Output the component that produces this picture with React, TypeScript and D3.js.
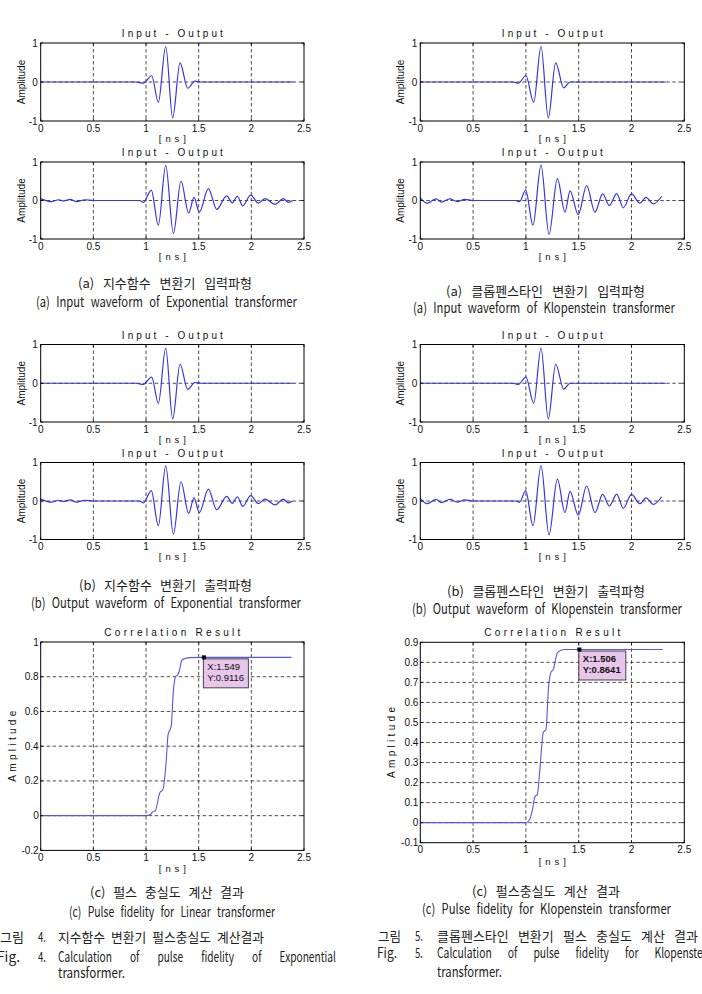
import React from "react";
import * as d3 from "d3";

// ---------------- data ----------------
const xTicks = [0, 0.5, 1, 1.5, 2, 2.5];
const waveYTicks = [-1, 0, 1];
const corrYTicksExp = [-0.2, 0, 0.2, 0.4, 0.6, 0.8, 1];
const corrYTicksKlop = [-0.1, 0, 0.1, 0.2, 0.3, 0.4, 0.5, 0.6, 0.7, 0.8, 0.9];

// Exponential transformer – input waveform (extrema)
const expInputT = [0, 0.9, 0.975, 1.054, 1.117, 1.187, 1.253, 1.323, 1.396, 1.465, 1.52, 2.4];
const expInputV = [0, 0, -0.03, 0.16, -0.52, 0.91, -0.92, 0.49, -0.16, 0.02, 0, 0];

// Exponential transformer – output waveform (extrema)
const expOutputT = [0, 0.1, 0.17, 0.22, 0.28, 0.34, 0.42, 0.5, 0.94, 0.975, 1.05, 1.117, 1.187, 1.26, 1.332, 1.405, 1.456, 1.506, 1.592, 1.671, 1.766, 1.82, 1.867, 1.918, 1.994, 2.067, 2.13, 2.225, 2.304, 2.35, 2.393];
const expOutputV = [0.05, -0.03, 0.02, -0.01, 0.03, -0.03, 0.02, 0, 0, -0.05, 0.27, -0.64, 0.91, -0.86, 0.5, -0.32, 0.08, -0.3, 0.31, -0.23, 0.12, -0.06, 0.11, -0.14, 0.14, -0.07, 0.05, -0.1, 0.05, -0.05, 0.0];

// Klopenstein transformer – input waveform (extrema)
const klopInputT = [0, 0.88, 0.928, 1.0, 1.074, 1.143, 1.212, 1.282, 1.358, 1.418, 2.327];
const klopInputV = [0, 0, -0.03, 0.16, -0.52, 0.91, -0.92, 0.49, -0.15, 0, 0];

// Klopenstein transformer – output waveform (extrema)
const klopOutputT = [0, 0.066, 0.149, 0.2, 0.28, 0.35, 0.42, 0.5, 0.9, 0.94, 0.998, 1.067, 1.143, 1.219, 1.298, 1.37, 1.418, 1.496, 1.575, 1.654, 1.727, 1.79, 1.86, 1.922, 2.0, 2.08, 2.137, 2.207, 2.286];
const klopOutputV = [0.07, -0.07, 0.04, -0.04, 0.04, -0.03, 0.03, 0, 0, -0.03, 0.27, -0.64, 0.92, -0.88, 0.57, -0.3, 0.25, -0.37, 0.39, -0.3, 0.17, -0.13, 0.18, -0.19, 0.17, -0.07, 0.08, -0.09, 0.11];

// Correlation results
const expCorrT = [0, 1.0, 1.04, 1.06, 1.09, 1.13, 1.16, 1.19, 1.21, 1.228, 1.24, 1.26, 1.28, 1.3, 1.315, 1.34, 1.37, 1.42, 1.549, 2.38];
const expCorrV = [0, 0, 0.005, 0.02, 0.03, 0.13, 0.15, 0.3, 0.47, 0.495, 0.52, 0.72, 0.8, 0.81, 0.83, 0.895, 0.905, 0.91, 0.9116, 0.9116];
const expTip = { x: 1.549, y: 0.9116 };

const klopCorrT = [0, 1.0, 1.02, 1.039, 1.06, 1.086, 1.108, 1.13, 1.165, 1.19, 1.215, 1.237, 1.26, 1.3, 1.36, 1.506, 2.295];
const klopCorrV = [0, 0, 0.005, 0.02, 0.06, 0.13, 0.14, 0.25, 0.45, 0.465, 0.68, 0.75, 0.765, 0.85, 0.864, 0.8641, 0.8641];
const klopTip = { x: 1.506, y: 0.8641 };

// ---------------- styling ----------------
const PLOT_FONT = "'Liberation Sans', Arial, Helvetica, sans-serif";
const CAP_FONT = "'Noto Sans CJK KR', 'Noto Sans', sans-serif";
const WAVE_COLOR = "#3535e4";
const CORR_COLOR = "#5656e6";
const DASH = "3.5,2.5";

let measureCtx: CanvasRenderingContext2D | null = null;
function measure(s: string, font: string) {
  if (!measureCtx) measureCtx = document.createElement("canvas").getContext("2d");
  if (!measureCtx) return s.length * 7;
  measureCtx.font = font;
  return measureCtx.measureText(s).width;
}

// Words spread across [x0, x1]; glyphs condensed horizontally if needed
function Justified({ x0, x1, y, text, size = 13, gapMin }: { x0: number; x1: number; y: number; text: string; size?: number; gapMin?: number }) {
  const words = text.split(" ");
  const font = `${size}px ${CAP_FONT}`;
  const widths = words.map((w) => measure(w, font));
  const total = widths.reduce((a, b) => a + b, 0);
  const n = words.length;
  const span = x1 - x0;
  const minGap = gapMin ?? size * 0.45;
  let sx = 1;
  if (n > 1) {
    if (total + minGap * (n - 1) > span) sx = Math.max(0.6, (span - minGap * (n - 1)) / total);
  } else if (total > span) {
    sx = Math.max(0.6, span / total);
  }
  const gap = n > 1 ? (span - total * sx) / (n - 1) : 0;
  let cur = 0;
  const xs = widths.map((w) => {
    const r = cur;
    cur += w * sx + gap;
    return r / sx;
  });
  return (
    <g transform={`translate(${x0},${y}) scale(${sx},1)`}>
      <text y={0} fontSize={size} fontFamily={CAP_FONT} fill="#222">
        {words.map((w, i) => (
          <tspan key={i} x={xs[i]}>
            {w}
          </tspan>
        ))}
      </text>
    </g>
  );
}

function fmt(v: number) {
  return String(+v.toFixed(1));
}

function WavePanel({ x0, x1, y0, y1, t, v }: { x0: number; x1: number; y0: number; y1: number; t: number[]; v: number[] }) {
  const xs = d3.scaleLinear().domain([0, 2.5]).range([x0, x1]);
  const ys = d3.scaleLinear().domain([-1, 1]).range([y1, y0]);
  const line = d3
    .line<number>()
    .x((_, i) => xs(t[i]))
    .y((d) => ys(d))
    .curve(d3.curveMonotoneX);
  const cx = (x0 + x1) / 2;
  const cy = (y0 + y1) / 2;
  return (
    <g fontFamily={PLOT_FONT}>
      <text x={cx} y={y0 - 6} textAnchor="middle" fontSize={10} textLength={101} lengthAdjust="spacing" fill="#111">
        Input - Output
      </text>
      {xTicks.slice(1, -1).map((tk) => (
        <line key={tk} x1={xs(tk)} x2={xs(tk)} y1={y0} y2={y1} stroke="#222" strokeWidth={0.8} strokeDasharray={DASH} />
      ))}
      <line x1={x0} x2={x1} y1={ys(0)} y2={ys(0)} stroke="#222" strokeWidth={0.8} strokeDasharray={DASH} />
      <path d={line(v) || ""} fill="none" stroke={WAVE_COLOR} strokeWidth={1.2} />
      {xTicks.map((tk) => (
        <g key={"xt" + tk}>
          <line x1={xs(tk)} x2={xs(tk)} y1={y1} y2={y1 - 2.5} stroke="#000" strokeWidth={0.8} />
          <line x1={xs(tk)} x2={xs(tk)} y1={y0} y2={y0 + 2.5} stroke="#000" strokeWidth={0.8} />
          <text x={xs(tk)} y={y1 + 10.5} textAnchor="middle" fontSize={10} fill="#111">
            {fmt(tk)}
          </text>
        </g>
      ))}
      {waveYTicks.map((tk) => (
        <g key={"yt" + tk}>
          <line x1={x0} x2={x0 + 2.5} y1={ys(tk)} y2={ys(tk)} stroke="#000" strokeWidth={0.8} />
          <line x1={x1} x2={x1 - 2.5} y1={ys(tk)} y2={ys(tk)} stroke="#000" strokeWidth={0.8} />
          <text x={x0 - 3} y={ys(tk) + 3.5} textAnchor="end" fontSize={10} fill="#111">
            {fmt(tk)}
          </text>
        </g>
      ))}
      <rect x={x0} y={y0} width={x1 - x0} height={y1 - y0} fill="none" stroke="#000" strokeWidth={1} />
      <text x={cx} y={y1 + 20.5} textAnchor="middle" fontSize={9.5} textLength={27} lengthAdjust="spacing" fill="#111">
        [ns]
      </text>
      <text transform={`translate(${x0 - 16},${cy}) rotate(-90)`} textAnchor="middle" fontSize={10} fill="#111">
        Amplitude
      </text>
    </g>
  );
}

function CorrPanel({
  x0, x1, y0, y1, t, v, yTicks, tip, bold,
}: {
  x0: number; x1: number; y0: number; y1: number; t: number[]; v: number[]; yTicks: number[]; tip: { x: number; y: number }; bold: boolean;
}) {
  const xs = d3.scaleLinear().domain([0, 2.5]).range([x0, x1]);
  const ys = d3.scaleLinear().domain([yTicks[0], yTicks[yTicks.length - 1]]).range([y1, y0]);
  const line = d3
    .line<number>()
    .x((_, i) => xs(t[i]))
    .y((d) => ys(d))
    .curve(d3.curveMonotoneX);
  const cx = (x0 + x1) / 2;
  const cy = (y0 + y1) / 2;
  const px = xs(tip.x);
  const py = ys(tip.y);
  return (
    <g fontFamily={PLOT_FONT}>
      <text x={cx} y={y0 - 6.5} textAnchor="middle" fontSize={10} textLength={136} lengthAdjust="spacing" fill="#111">
        Correlation Result
      </text>
      {xTicks.slice(1, -1).map((tk) => (
        <line key={tk} x1={xs(tk)} x2={xs(tk)} y1={y0} y2={y1} stroke="#222" strokeWidth={0.8} strokeDasharray={DASH} />
      ))}
      {yTicks.slice(1, -1).map((tk) => (
        <line key={"g" + tk} x1={x0} x2={x1} y1={ys(tk)} y2={ys(tk)} stroke="#222" strokeWidth={0.8} strokeDasharray={DASH} />
      ))}
      <path d={line(v) || ""} fill="none" stroke={CORR_COLOR} strokeWidth={1.1} />
      {xTicks.map((tk) => (
        <g key={"xt" + tk}>
          <line x1={xs(tk)} x2={xs(tk)} y1={y1} y2={y1 - 2.5} stroke="#000" strokeWidth={0.8} />
          <line x1={xs(tk)} x2={xs(tk)} y1={y0} y2={y0 + 2.5} stroke="#000" strokeWidth={0.8} />
          <text x={xs(tk)} y={y1 + 10.5} textAnchor="middle" fontSize={10} fill="#111">
            {fmt(tk)}
          </text>
        </g>
      ))}
      {yTicks.map((tk) => (
        <g key={"yt" + tk}>
          <line x1={x0} x2={x0 + 2.5} y1={ys(tk)} y2={ys(tk)} stroke="#000" strokeWidth={0.8} />
          <line x1={x1} x2={x1 - 2.5} y1={ys(tk)} y2={ys(tk)} stroke="#000" strokeWidth={0.8} />
          <text x={x0 - 2} y={ys(tk) + 3.5} textAnchor="end" fontSize={10} fill="#111">
            {fmt(tk)}
          </text>
        </g>
      ))}
      <rect x={x0} y={y0} width={x1 - x0} height={y1 - y0} fill="none" stroke="#000" strokeWidth={1} />
      <text x={cx} y={y1 + 22} textAnchor="middle" fontSize={9.5} textLength={27} lengthAdjust="spacing" fill="#111">
        [ns]
      </text>
      <text transform={`translate(${x0 - 25},${cy}) rotate(-90)`} textAnchor="middle" fontSize={10} textLength={71} lengthAdjust="spacing" fill="#111">
        Amplitude
      </text>
      {/* data tip */}
      <rect x={px - 0.5} y={py + 1.5} width={bold ? 47 : 45} height={29} fill="#e8c6ea" stroke="#333" strokeWidth={0.9} />
      <rect x={px - 2} y={py - 2} width={4} height={4} fill="#000" />
      <text x={px + 3.5} y={py + 12.5} fontSize={9.5} fontWeight={bold ? 700 : 400} fill="#111">
        {`X:${tip.x}`}
      </text>
      <text x={px + 3.5} y={py + 24} fontSize={9.5} fontWeight={bold ? 700 : 400} fill="#111">
        {`Y:${tip.y}`}
      </text>
    </g>
  );
}

export default function App() {
  const L = { x0: 40.7, x1: 304 };
  const R = { x0: 420.3, x1: 684.3 };
  const rows: [number, number][] = [
    [43, 121],
    [162, 239],
    [344.5, 422],
    [462.5, 539.5],
  ];
  const E = 14; // english caption size
  return (
    <svg
      width={702}
      height={994}
      viewBox="0 0 702 994"
      style={{ position: "absolute", left: 0, top: 0, background: "#fff", overflow: "hidden" }}
    >
      <rect x={0} y={0} width={702} height={994} fill="#fff" />
      <WavePanel {...L} y0={rows[0][0]} y1={rows[0][1]} t={expInputT} v={expInputV} />
      <WavePanel {...L} y0={rows[1][0]} y1={rows[1][1]} t={expOutputT} v={expOutputV} />
      <WavePanel {...L} y0={rows[2][0]} y1={rows[2][1]} t={expInputT} v={expInputV} />
      <WavePanel {...L} y0={rows[3][0]} y1={rows[3][1]} t={expOutputT} v={expOutputV} />
      <WavePanel {...R} y0={rows[0][0]} y1={rows[0][1]} t={klopInputT} v={klopInputV} />
      <WavePanel {...R} y0={rows[1][0]} y1={rows[1][1]} t={klopOutputT} v={klopOutputV} />
      <WavePanel {...R} y0={rows[2][0]} y1={rows[2][1]} t={klopInputT} v={klopInputV} />
      <WavePanel {...R} y0={rows[3][0]} y1={rows[3][1]} t={klopOutputT} v={klopOutputV} />

      <CorrPanel {...L} y0={642} y1={850.4} t={expCorrT} v={expCorrV} yTicks={corrYTicksExp} tip={expTip} bold={false} />
      <CorrPanel {...R} y0={642.3} y1={842.7} t={klopCorrT} v={klopCorrV} yTicks={corrYTicksKlop} tip={klopTip} bold={true} />

      {/* captions */}
      <Justified x0={78} x1={252} y={287.5} text="(a) 지수함수 변환기 입력파형" />
      <Justified x0={36} x1={297} y={307} size={E} text="(a) Input waveform of Exponential transformer" />
      <Justified x0={446} x1={645} y={295.5} text="(a) 클롭펜스타인 변환기 입력파형" />
      <Justified x0={413} x1={675} y={313} size={E} text="(a) Input waveform of Klopenstein transformer" />

      <Justified x0={79} x1={252} y={589.5} text="(b) 지수함수 변환기 출력파형" />
      <Justified x0={31} x1={301} y={608} size={E} text="(b) Output waveform of Exponential transformer" />
      <Justified x0={447} x1={645} y={595.5} text="(b) 클롭펜스타인 변환기 출력파형" />
      <Justified x0={412} x1={682} y={614} size={E} text="(b) Output waveform of Klopenstein transformer" />

      <Justified x0={90} x1={244} y={896.5} text="(c) 펄스 충실도 계산 결과" />
      <Justified x0={69} x1={275} y={917} size={E} text="(c) Pulse fidelity for Linear transformer" />
      <Justified x0={472} x1={620} y={895.5} text="(c) 펄스충실도 계산 결과" />
      <Justified x0={422} x1={671} y={914} size={E} text="(c) Pulse fidelity for Klopenstein transformer" />

      <Justified x0={0} x1={26} y={941.5} text="그림" />
      <Justified x0={38} x1={46} y={941.5} text="4." />
      <Justified x0={58} x1={264} y={941.5} text="지수함수 변환기 펄스충실도 계산결과" />
      <Justified x0={-3} x1={20} y={962} size={E} text="Fig." />
      <Justified x0={38} x1={46} y={962} size={E} text="4." />
      <Justified x0={58} x1={336} y={962} size={E} gapMin={18} text="Calculation of pulse fidelity of Exponential" />
      <Justified x0={58} x1={125} y={978} size={E} text="transformer." />

      <Justified x0={378} x1={401} y={940.5} text="그림" />
      <Justified x0={415} x1={423} y={940.5} text="5." />
      <Justified x0={437} x1={698} y={940.5} text="클롭펜스타인 변환기 펄스 충실도 계산 결과" />
      <Justified x0={377} x1={397} y={958} size={E} text="Fig." />
      <Justified x0={415} x1={423} y={958} size={E} text="5." />
      <Justified x0={437} x1={712} y={958} size={E} gapMin={16} text="Calculation of pulse fidelity for Klopenstein" />
      <Justified x0={437} x1={502} y={977} size={E} text="transformer." />
    </svg>
  );
}
